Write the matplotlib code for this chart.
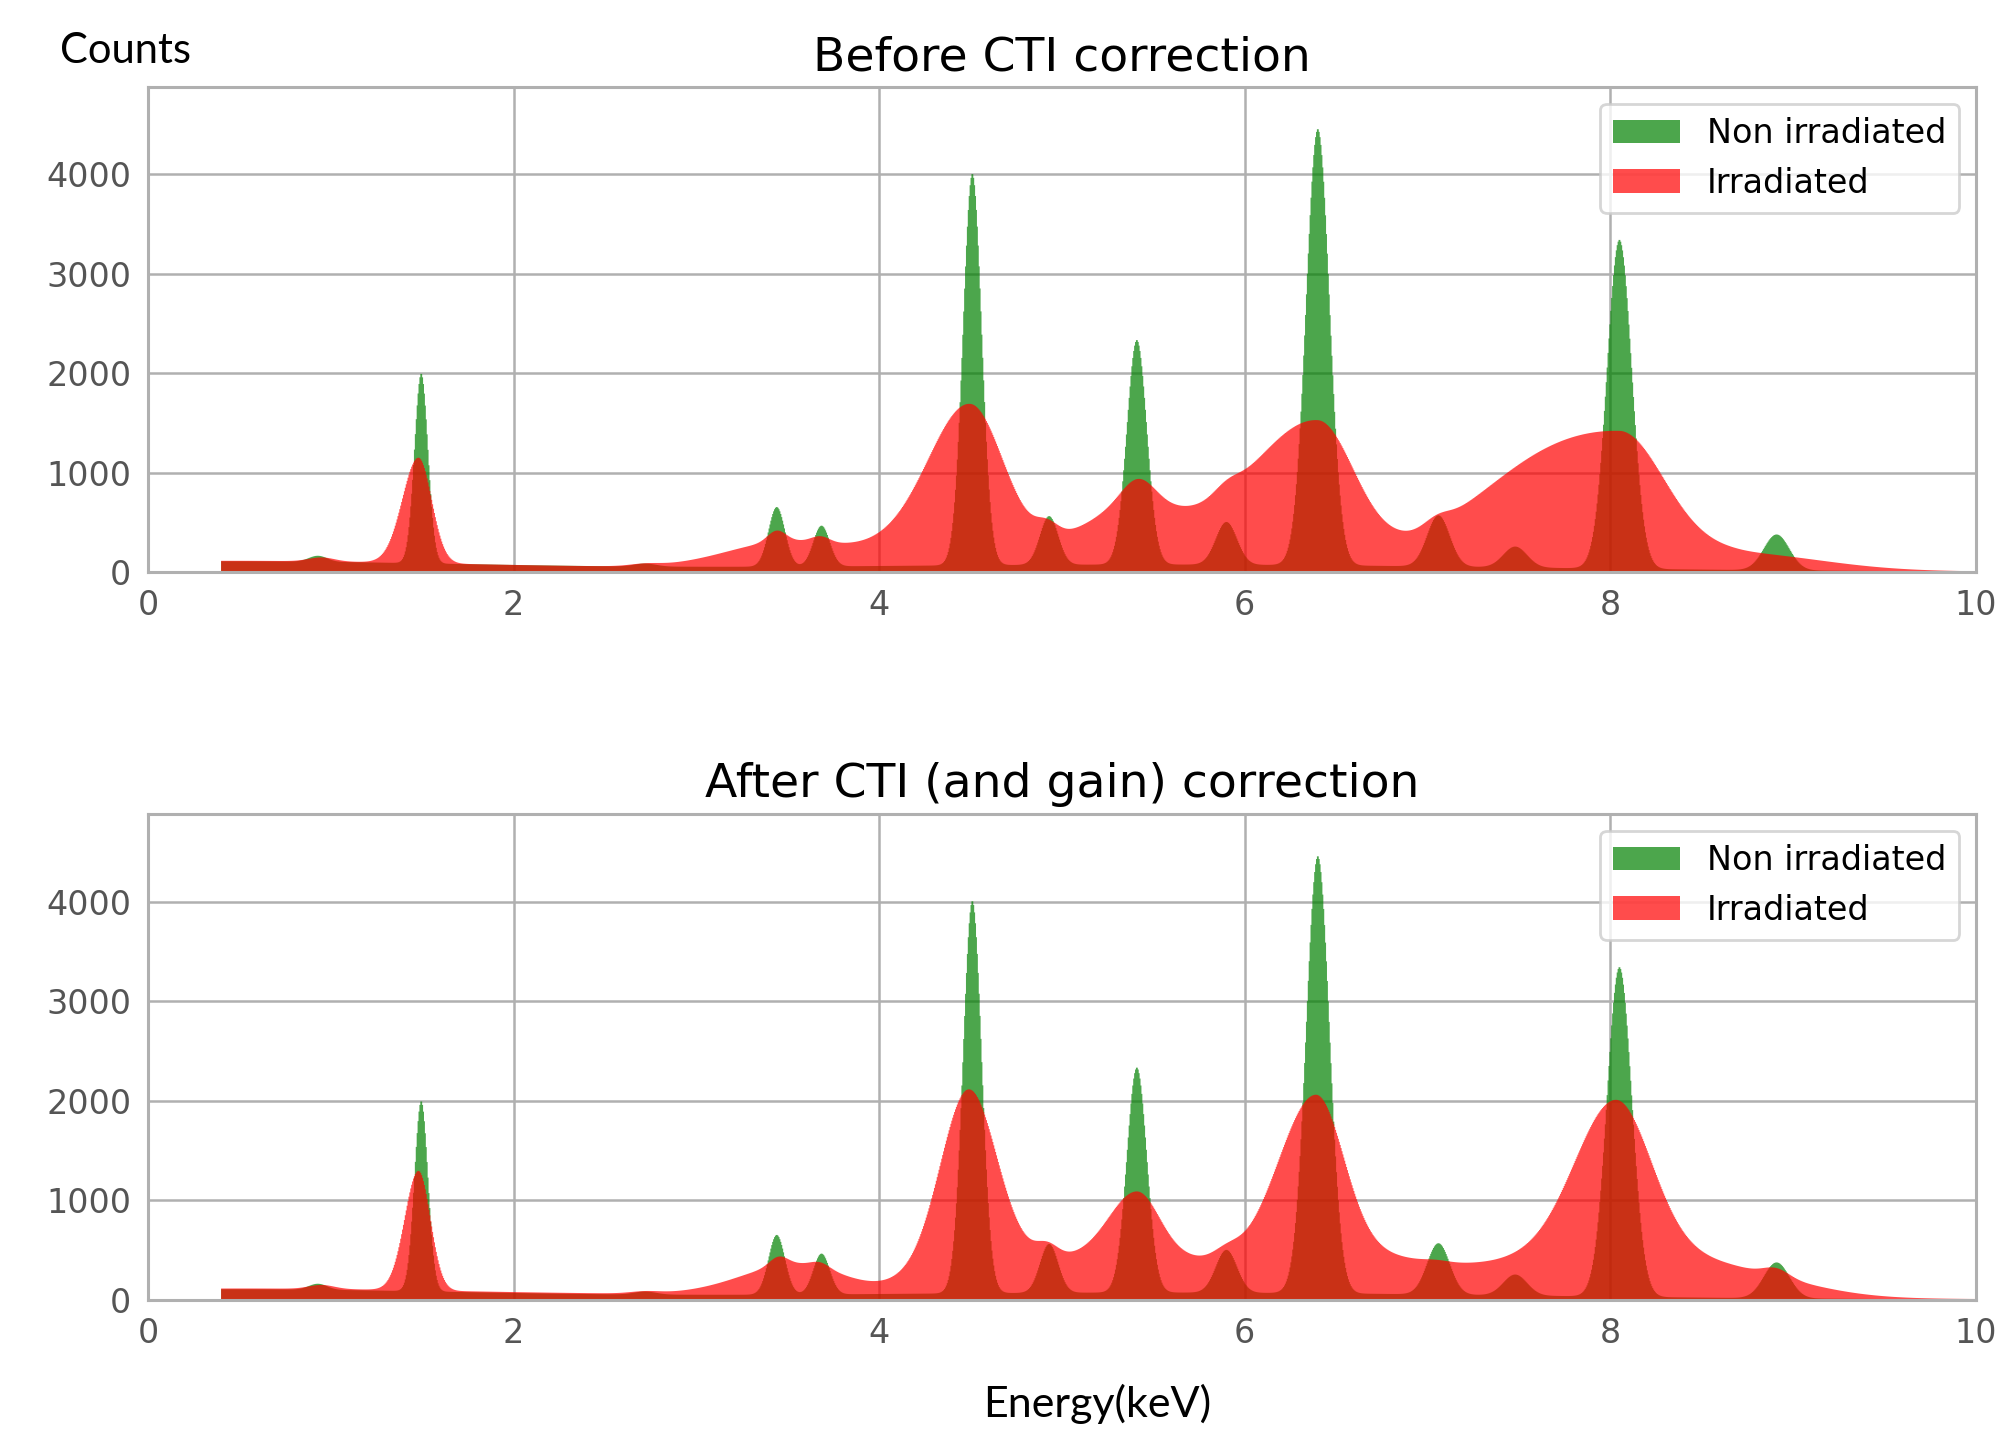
import numpy as np
import matplotlib
matplotlib.use('Agg')
import matplotlib.pyplot as plt

# energy binning (keV)
bin_width = 0.005
e_min, e_max = 0.4, 10.0

# line components: centre (keV), height (counts), left / right width (keV)
nonirr_centre = [0.4, 5.5, 0.93, 1.495, 2.72, 3.44, 3.685, 4.51, 4.93, 5.41, 5.90, 6.40, 7.06, 7.48, 8.05, 8.91]
nonirr_height = [105, 75, 60, 1910, 30, 600, 410, 3940, 490, 2260, 430, 4390, 515, 210, 3310, 360]
nonirr_width = [1.4, 2.0, 0.05, 0.037, 0.06, 0.045, 0.045, 0.051, 0.05, 0.055, 0.058, 0.064, 0.062, 0.065, 0.068, 0.07]

before_centre = [0.4, 5.5, 0.95, 1.48, 2.72, 3.5, 3.44, 3.68, 4.50, 4.2, 5.5, 4.92, 5.42, 5.38, 5.90, 6.40, 7.05, 7.55, 8.05, 8.7]
before_height = [110, 65, 40, 1060, 20, 260, 110, 60, 1450, 200, 430, 120, 230, 200, 90, 1330, 80, 100, 1350, 170]
before_wl = [1.4, 2.0, 0.07, 0.088, 0.08, 0.33, 0.05, 0.05, 0.22, 0.25, 0.55, 0.06, 0.09, 0.18, 0.07, 0.34, 0.07, 0.3, 0.65, 0.3]
before_wr = [1.4, 2.0, 0.07, 0.072, 0.08, 0.33, 0.05, 0.05, 0.18, 0.25, 0.5, 0.06, 0.09, 0.18, 0.07, 0.2, 0.07, 0.3, 0.25, 0.45]

after_centre = [0.4, 5.5, 0.95, 1.48, 2.72, 3.55, 3.45, 3.68, 4.49, 4.49, 4.92, 5.41, 5.40, 5.90, 6.39, 6.39, 7.05, 8.03, 8.03, 8.8, 8.91]
after_height = [110, 80, 40, 1200, 20, 300, 90, 50, 1630, 400, 120, 600, 340, 80, 1530, 450, 20, 1450, 500, 150, 80]
after_wl = [1.4, 2.2, 0.07, 0.075, 0.08, 0.3, 0.05, 0.05, 0.15, 0.25, 0.06, 0.15, 0.35, 0.07, 0.2, 0.45, 0.07, 0.22, 0.55, 0.35, 0.07]
after_wr = [1.4, 2.2, 0.07, 0.065, 0.08, 0.25, 0.05, 0.05, 0.15, 0.4, 0.06, 0.12, 0.3, 0.07, 0.15, 0.55, 0.07, 0.19, 0.45, 0.35, 0.07]

edges = np.arange(e_min, e_max + bin_width / 2, bin_width)
centres = 0.5 * (edges[:-1] + edges[1:])


def spectrum(centre, height, wl, wr):
    counts = np.zeros_like(centres)
    for c, h, l, r in zip(centre, height, wl, wr):
        w = np.where(centres < c, l, r)
        counts += h * np.exp(-0.5 * ((centres - c) / w) ** 2)
    return counts


nonirr = spectrum(nonirr_centre, nonirr_height, nonirr_width, nonirr_width)
before = spectrum(before_centre, before_height, before_wl, before_wr)
after = spectrum(after_centre, after_height, after_wl, after_wr)

grid_col = '#b0b0b0'
fig = plt.figure(figsize=(20.16, 14.3), dpi=100)
ax_top = fig.add_axes([0.0734, 0.600, 0.9067, 0.3392])
ax_bot = fig.add_axes([0.0734, 0.0909, 0.9067, 0.3399])

panels = [(ax_top, before, 'Before CTI correction'),
          (ax_bot, after, 'After CTI (and gain) correction')]

for ax, irr, title in panels:
    ax.hist(centres, bins=edges, weights=nonirr, histtype='stepfilled',
            color='green', alpha=0.7, label='Non irradiated')
    ax.hist(centres, bins=edges, weights=irr, histtype='stepfilled',
            color='red', alpha=0.7, label='Irradiated')
    ax.set_xlim(0, 10)
    ax.set_ylim(0, 4880)
    ax.set_xticks([0, 2, 4, 6, 8, 10])
    ax.set_yticks([0, 1000, 2000, 3000, 4000])
    ax.grid(True, color=grid_col, linewidth=1.8)
    ax.set_axisbelow(True)
    for sp in ax.spines.values():
        sp.set_color(grid_col)
        sp.set_linewidth(2.2)
    ax.tick_params(length=0, pad=12, labelsize=24, labelcolor='#555555')
    ax.set_title(title, fontsize=34, pad=12)
    leg = ax.legend(loc='upper right', fontsize=24, framealpha=0.8, edgecolor='#cccccc')
    leg.get_frame().set_linewidth(2)

fig.text(0.030, 0.964, 'Counts', ha='left', va='center', fontsize=30, family='Lato')
fig.text(0.544, 0.018, 'Energy(keV)', ha='center', va='center', fontsize=31, family='Lato')

fig.savefig('out.png', dpi=100)
